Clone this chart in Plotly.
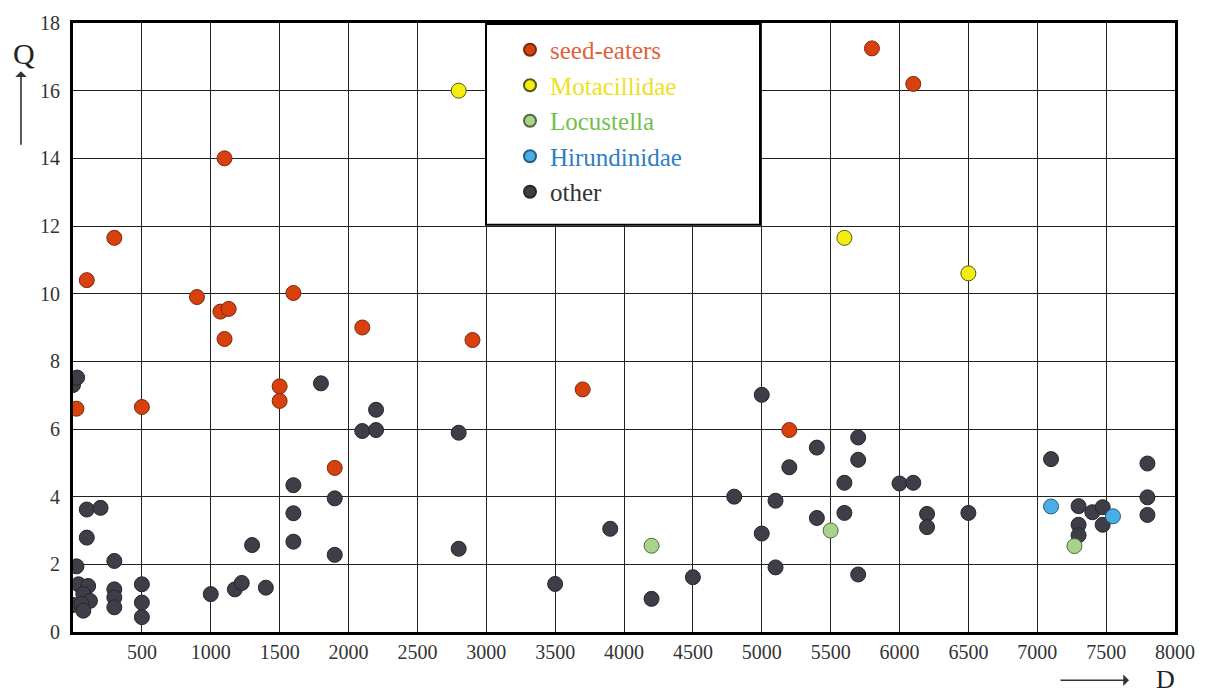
import plotly.graph_objects as go

# ---- data ----
seed_D = [5800, 6100, 1100, 300, 100, 900, 1070, 1130, 1100, 1600, 2100, 2900, 3700, 1500, 1500, 500, 25, 1900, 5200]
seed_Q = [17.25, 16.2, 14.0, 11.65, 10.4, 9.9, 9.47, 9.55, 8.66, 10.02, 9.0, 8.63, 7.17, 7.26, 6.83, 6.65, 6.6, 4.85, 5.97]

mot_D = [2800, 5600, 6500]
mot_Q = [16.0, 11.65, 10.6]

loc_D = [4200, 5500, 7270]
loc_Q = [2.55, 3.0, 2.54]

hir_D = [7100, 7550]
hir_Q = [3.71, 3.42]

other_D = [0, 30, 25, 0, 100, 200, 100, 300,
           40, 110, 75, 123, 62, 75,
           300, 300, 300, 500, 500, 500, 1000, 1175, 1225, 1300, 1400,
           1600, 1600, 1600, 1800, 2200, 2100, 2200, 2800, 1900, 1900, 2800,
           3500, 3900, 4200, 4500, 4800, 5000, 5400, 5200, 5700, 5700, 5600,
           6000, 6100, 5100, 5400, 5600, 5000, 5100, 5700, 6200, 6200, 6500,
           7100, 7300, 7400, 7475, 7300, 7300, 7475, 7800, 7800, 7800]
other_Q = [7.3, 7.52, 1.94, 0.8, 3.62, 3.67, 2.79, 2.1,
           1.41, 1.36, 1.12, 0.92, 0.83, 0.63,
           1.26, 1.02, 0.73, 1.41, 0.87, 0.44, 1.12, 1.26, 1.45, 2.57, 1.31,
           4.34, 3.51, 2.67, 7.35, 6.57, 5.94, 5.97, 5.89, 3.95, 2.28, 2.46,
           1.42, 3.05, 0.98, 1.62, 4.0, 7.01, 5.45, 4.87, 5.75, 5.09, 4.41,
           4.39, 4.41, 3.88, 3.37, 3.52, 2.91, 1.91, 1.7, 3.49, 3.1, 3.52,
           5.11, 3.72, 3.54, 3.69, 3.17, 2.86, 3.17, 4.98, 3.98, 3.46]

x_ticks = [500, 1000, 1500, 2000, 2500, 3000, 3500, 4000, 4500, 5000, 5500, 6000, 6500, 7000, 7500, 8000]
y_ticks = [0, 2, 4, 6, 8, 10, 12, 14, 16, 18]

SERIF = "Liberation Serif, Times New Roman, serif"

fig = go.Figure()

def add(xs, ys, name, fill, edge, tcolor, rank):
    fig.add_trace(go.Scatter(
        x=xs, y=ys, mode="markers",
        name=f"<span style='color:{tcolor}'>{name}</span>",
        legendrank=rank,
        marker=dict(size=15, color=fill, line=dict(color=edge, width=1)),
        hoverinfo="x+y",
    ))

add(other_D, other_Q, "other", "#3d3e48", "#26262c", "#333333", 5)
add(seed_D, seed_Q, "seed-eaters", "#d8400e", "#7a2a10", "#e0623a", 1)
add(mot_D, mot_Q, "Motacillidae", "#f4ee10", "#555520", "#f0df20", 2)
add(loc_D, loc_Q, "Locustella", "#a9d28c", "#4e6a3c", "#72bf4c", 3)
add(hir_D, hir_Q, "Hirundinidae", "#4aaee6", "#2a5e80", "#2d7fc4", 4)

L, R, T, B = 73, 36, 13, 65
W, H = 1211, 697
pw, ph = W - L - R, H - T - B

def px_x(p):
    return (p - L) / pw

def px_y(p):
    return 1 - (p - T) / ph

fig.update_layout(
    width=W, height=H,
    margin=dict(l=L, r=R, t=T, b=B),
    paper_bgcolor="white", plot_bgcolor="white",
    font=dict(family=SERIF, size=20, color="#333333"),
    showlegend=True,
    legend=dict(
        x=px_x(510), y=px_y(17), xanchor="left", yanchor="top",
        bgcolor="rgba(0,0,0,0)", borderwidth=0,
        font=dict(family=SERIF, size=25),
        itemsizing="constant",
        traceorder="normal",
    ),
    xaxis=dict(
        range=[0, 8000], tickmode="array", tickvals=x_ticks,
        ticktext=[str(v) for v in x_ticks],
        showgrid=True, gridcolor="#222222", gridwidth=1.2,
        showline=True, linecolor="black", linewidth=3, mirror=True,
        zeroline=False, ticks="", tickfont=dict(family=SERIF, size=20, color="#333"),
    ),
    yaxis=dict(
        range=[0, 18], tickmode="array", tickvals=y_ticks,
        ticktext=[str(v) for v in y_ticks],
        showgrid=True, gridcolor="#222222", gridwidth=1.2,
        showline=True, linecolor="black", linewidth=3, mirror=True,
        zeroline=False, ticks="", ticklabelstandoff=6,
        tickfont=dict(family=SERIF, size=20, color="#333"),
    ),
    shapes=[dict(
        type="rect", xref="paper", yref="paper", layer="above",
        x0=px_x(486), x1=px_x(760), y0=px_y(218), y1=px_y(14),
        fillcolor="white", line=dict(color="black", width=2),
    )],
    annotations=[
        dict(text="Q", xref="paper", yref="paper", x=px_x(24), y=px_y(44),
             showarrow=False, font=dict(family=SERIF, size=30, color="#222"),
             xanchor="center", yanchor="middle"),
        dict(text="", xref="paper", yref="paper", x=px_x(21), y=px_y(62),
             ax=0, ay=75, showarrow=True, arrowhead=1, arrowsize=1.2,
             arrowwidth=1.6, arrowcolor="#333"),
        dict(text="D", xref="paper", yref="paper", x=px_x(1165), y=px_y(680),
             showarrow=False, font=dict(family=SERIF, size=26, color="#222"),
             xanchor="center", yanchor="middle"),
        dict(text="", xref="paper", yref="paper", x=px_x(1129), y=px_y(681),
             ax=-70, ay=0, showarrow=True, arrowhead=1, arrowsize=1.2,
             arrowwidth=1.6, arrowcolor="#333"),
    ],
)

fig.write_html("out.html")
